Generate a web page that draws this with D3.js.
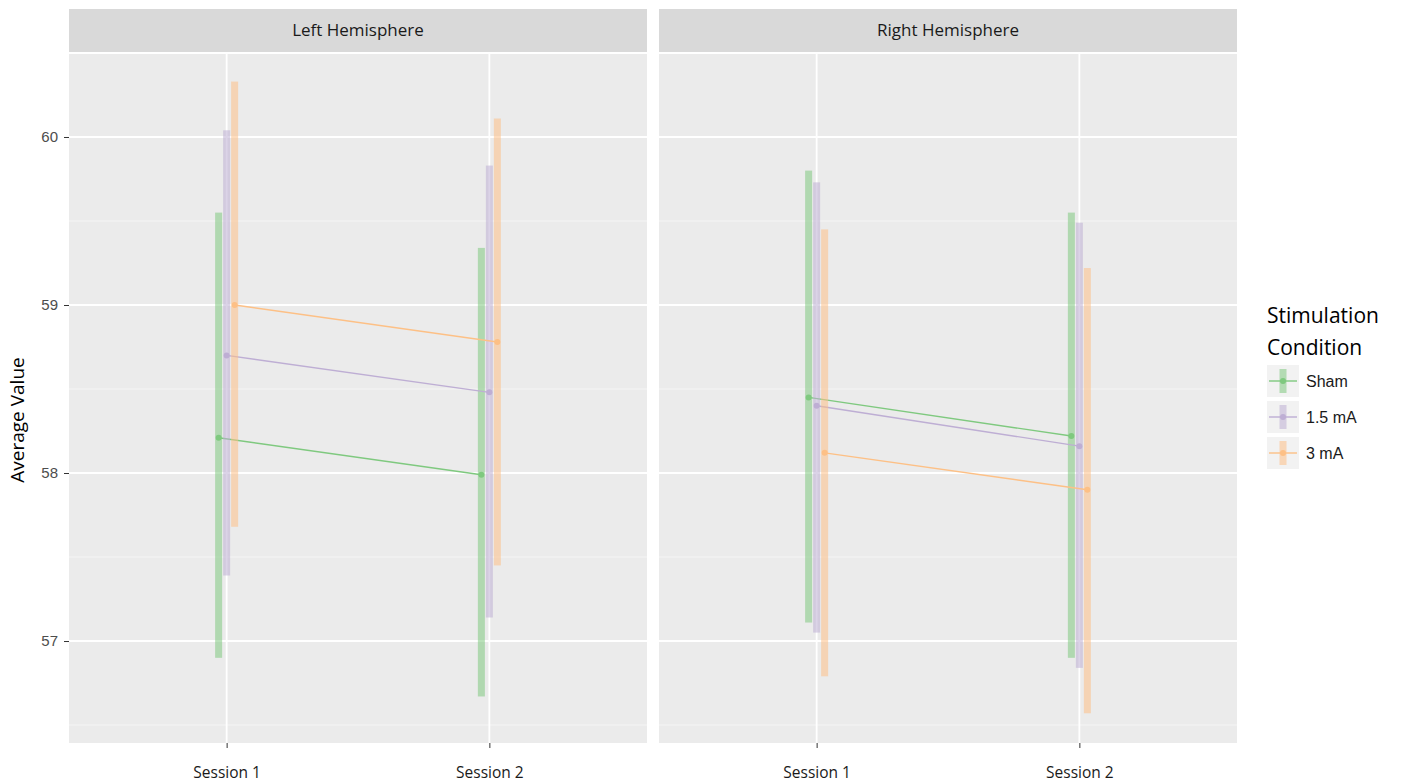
<!DOCTYPE html>
<html>
<head>
<script src="https://d3js.org/d3.v7.min.js"></script>
<style>
body { margin: 0; background: #fff; }
</style>
</head>
<body>
<script>

var panels = ["Left Hemisphere", "Right Hemisphere"];
var sessions = ["Session 1", "Session 2"];
var conditions = ["Sham", "1.5 mA", "3 mA"];
var colors = ["#7FC97F", "#BEAED4", "#FDC086"];
var yTicks = [57, 58, 59, 60];

// mean, lower, upper per panel / condition / session
var leftMean  = [[58.21, 57.99], [58.70, 58.48], [59.00, 58.78]];
var leftLow   = [[56.90, 56.67], [57.39, 57.14], [57.68, 57.45]];
var leftHigh  = [[59.55, 59.34], [60.04, 59.83], [60.33, 60.11]];
var rightMean = [[58.45, 58.22], [58.40, 58.16], [58.12, 57.90]];
var rightLow  = [[57.11, 56.90], [57.05, 56.84], [56.79, 56.57]];
var rightHigh = [[59.80, 59.55], [59.73, 59.49], [59.45, 59.22]];

var means = [leftMean, rightMean], lows = [leftLow, rightLow], highs = [leftHigh, rightHigh];

var svg = d3.select("body").append("svg")
    .attr("width", 1402).attr("height", 784);

var panelW = 578, panelTop = 54, panelBottom = 743;
var panelX = [69, 659];

var y = d3.scaleLinear().domain([56.393, 60.494]).range([panelBottom, panelTop]);
var dodge = d3.scaleBand().domain(conditions).range([-12, 12]);

panels.forEach(function(name, p) {
  var g = svg.append("g").attr("transform", "translate(" + panelX[p] + ",0)");
  var x = d3.scalePoint().domain(sessions).range([0, panelW]).padding(0.6);

  g.append("rect").attr("x", 0).attr("y", 9).attr("width", panelW).attr("height", 43)
   .attr("fill", "#D9D9D9");
  g.append("text").attr("x", panelW / 2).attr("y", 36).attr("text-anchor", "middle")
   .style("font-family", "'Open Sans', sans-serif").style("font-size", "17px")
   .attr("fill", "#1a1a1a").text(name);

  g.append("rect").attr("x", 0).attr("y", panelTop).attr("width", panelW)
   .attr("height", panelBottom - panelTop).attr("fill", "#EBEBEB");

  // minor grid
  [56.5, 57.5, 58.5, 59.5, 60.5].forEach(function(v) {
    if (y(v) < panelTop) return;
    g.append("line").attr("x1", 0).attr("x2", panelW).attr("y1", y(v)).attr("y2", y(v))
     .attr("stroke", "#F5F5F5").attr("stroke-width", 1);
  });
  yTicks.forEach(function(v) {
    g.append("line").attr("x1", 0).attr("x2", panelW).attr("y1", y(v)).attr("y2", y(v))
     .attr("stroke", "#fff").attr("stroke-width", 1.8);
  });
  sessions.forEach(function(s) {
    g.append("line").attr("x1", x(s)).attr("x2", x(s)).attr("y1", panelTop).attr("y2", panelBottom)
     .attr("stroke", "#fff").attr("stroke-width", 1.8);
  });

  // x axis
  var xAxis = g.append("g").attr("transform", "translate(0," + panelBottom + ")")
    .call(d3.axisBottom(x).tickSize(5).tickPadding(19));
  xAxis.select(".domain").remove();
  xAxis.selectAll("line").attr("stroke", "#333");
  xAxis.selectAll("text").style("font-family", "'Open Sans', sans-serif")
    .style("font-size", "15.5px").attr("fill", "#1a1a1a");

  if (p === 0) {
    var yAxis = g.append("g").call(d3.axisLeft(y).tickValues(yTicks)
      .tickFormat(d3.format("d")).tickSize(5).tickPadding(6));
    yAxis.select(".domain").remove();
    yAxis.selectAll("line").attr("stroke", "#333");
    yAxis.selectAll("text").style("font-family", "'Liberation Sans', Arial, sans-serif")
      .style("font-size", "15px").attr("fill", "#4D4D4D");
  }

  conditions.forEach(function(c, i) {
    var off = dodge(c) + dodge.bandwidth() / 2;
    sessions.forEach(function(s, j) {
      g.append("rect")
       .attr("x", x(s) + off - 3.5).attr("width", 7)
       .attr("y", y(highs[p][i][j])).attr("height", y(lows[p][i][j]) - y(highs[p][i][j]))
       .attr("fill", colors[i]).attr("opacity", 0.55);
    });
    var line = d3.line()
      .x(function(d, j) { return x(sessions[j]) + off; })
      .y(function(d) { return y(d); });
    g.append("path").datum(means[p][i]).attr("d", line)
     .attr("fill", "none").attr("stroke", colors[i]).attr("stroke-width", 1.4);
    means[p][i].forEach(function(m, j) {
      g.append("circle").attr("cx", x(sessions[j]) + off).attr("cy", y(m)).attr("r", 3)
       .attr("fill", colors[i]);
    });
  });
});

svg.append("text").attr("transform", "translate(24,420) rotate(-90)")
   .attr("text-anchor", "middle")
   .style("font-family", "'Open Sans', sans-serif").style("font-size", "19px")
   .attr("fill", "#000").text("Average Value");

// legend
var lg = svg.append("g").attr("transform", "translate(1267,0)");
lg.append("text").attr("x", 0).attr("y", 323)
  .style("font-family", "'Open Sans', sans-serif").style("font-size", "21px").text("Stimulation");
lg.append("text").attr("x", 0).attr("y", 355)
  .style("font-family", "'Open Sans', sans-serif").style("font-size", "21px").text("Condition");
conditions.forEach(function(c, i) {
  var cy = 381 + i * 36;
  lg.append("rect").attr("x", 0).attr("y", cy - 16).attr("width", 32).attr("height", 32)
    .attr("fill", "#F2F2F2");
  lg.append("rect").attr("x", 12.5).attr("y", cy - 12).attr("width", 7).attr("height", 24)
    .attr("fill", colors[i]).attr("opacity", 0.55);
  lg.append("line").attr("x1", 2).attr("x2", 30).attr("y1", cy).attr("y2", cy)
    .attr("stroke", colors[i]).attr("stroke-width", 1.4);
  lg.append("circle").attr("cx", 16).attr("cy", cy).attr("r", 3).attr("fill", colors[i]);
  lg.append("text").attr("x", 39).attr("y", cy + 6)
    .style("font-family", "'Liberation Sans', Arial, sans-serif").style("font-size", "16px")
    .attr("fill", "#1a1a1a").text(c);
});

</script>
</body>
</html>
